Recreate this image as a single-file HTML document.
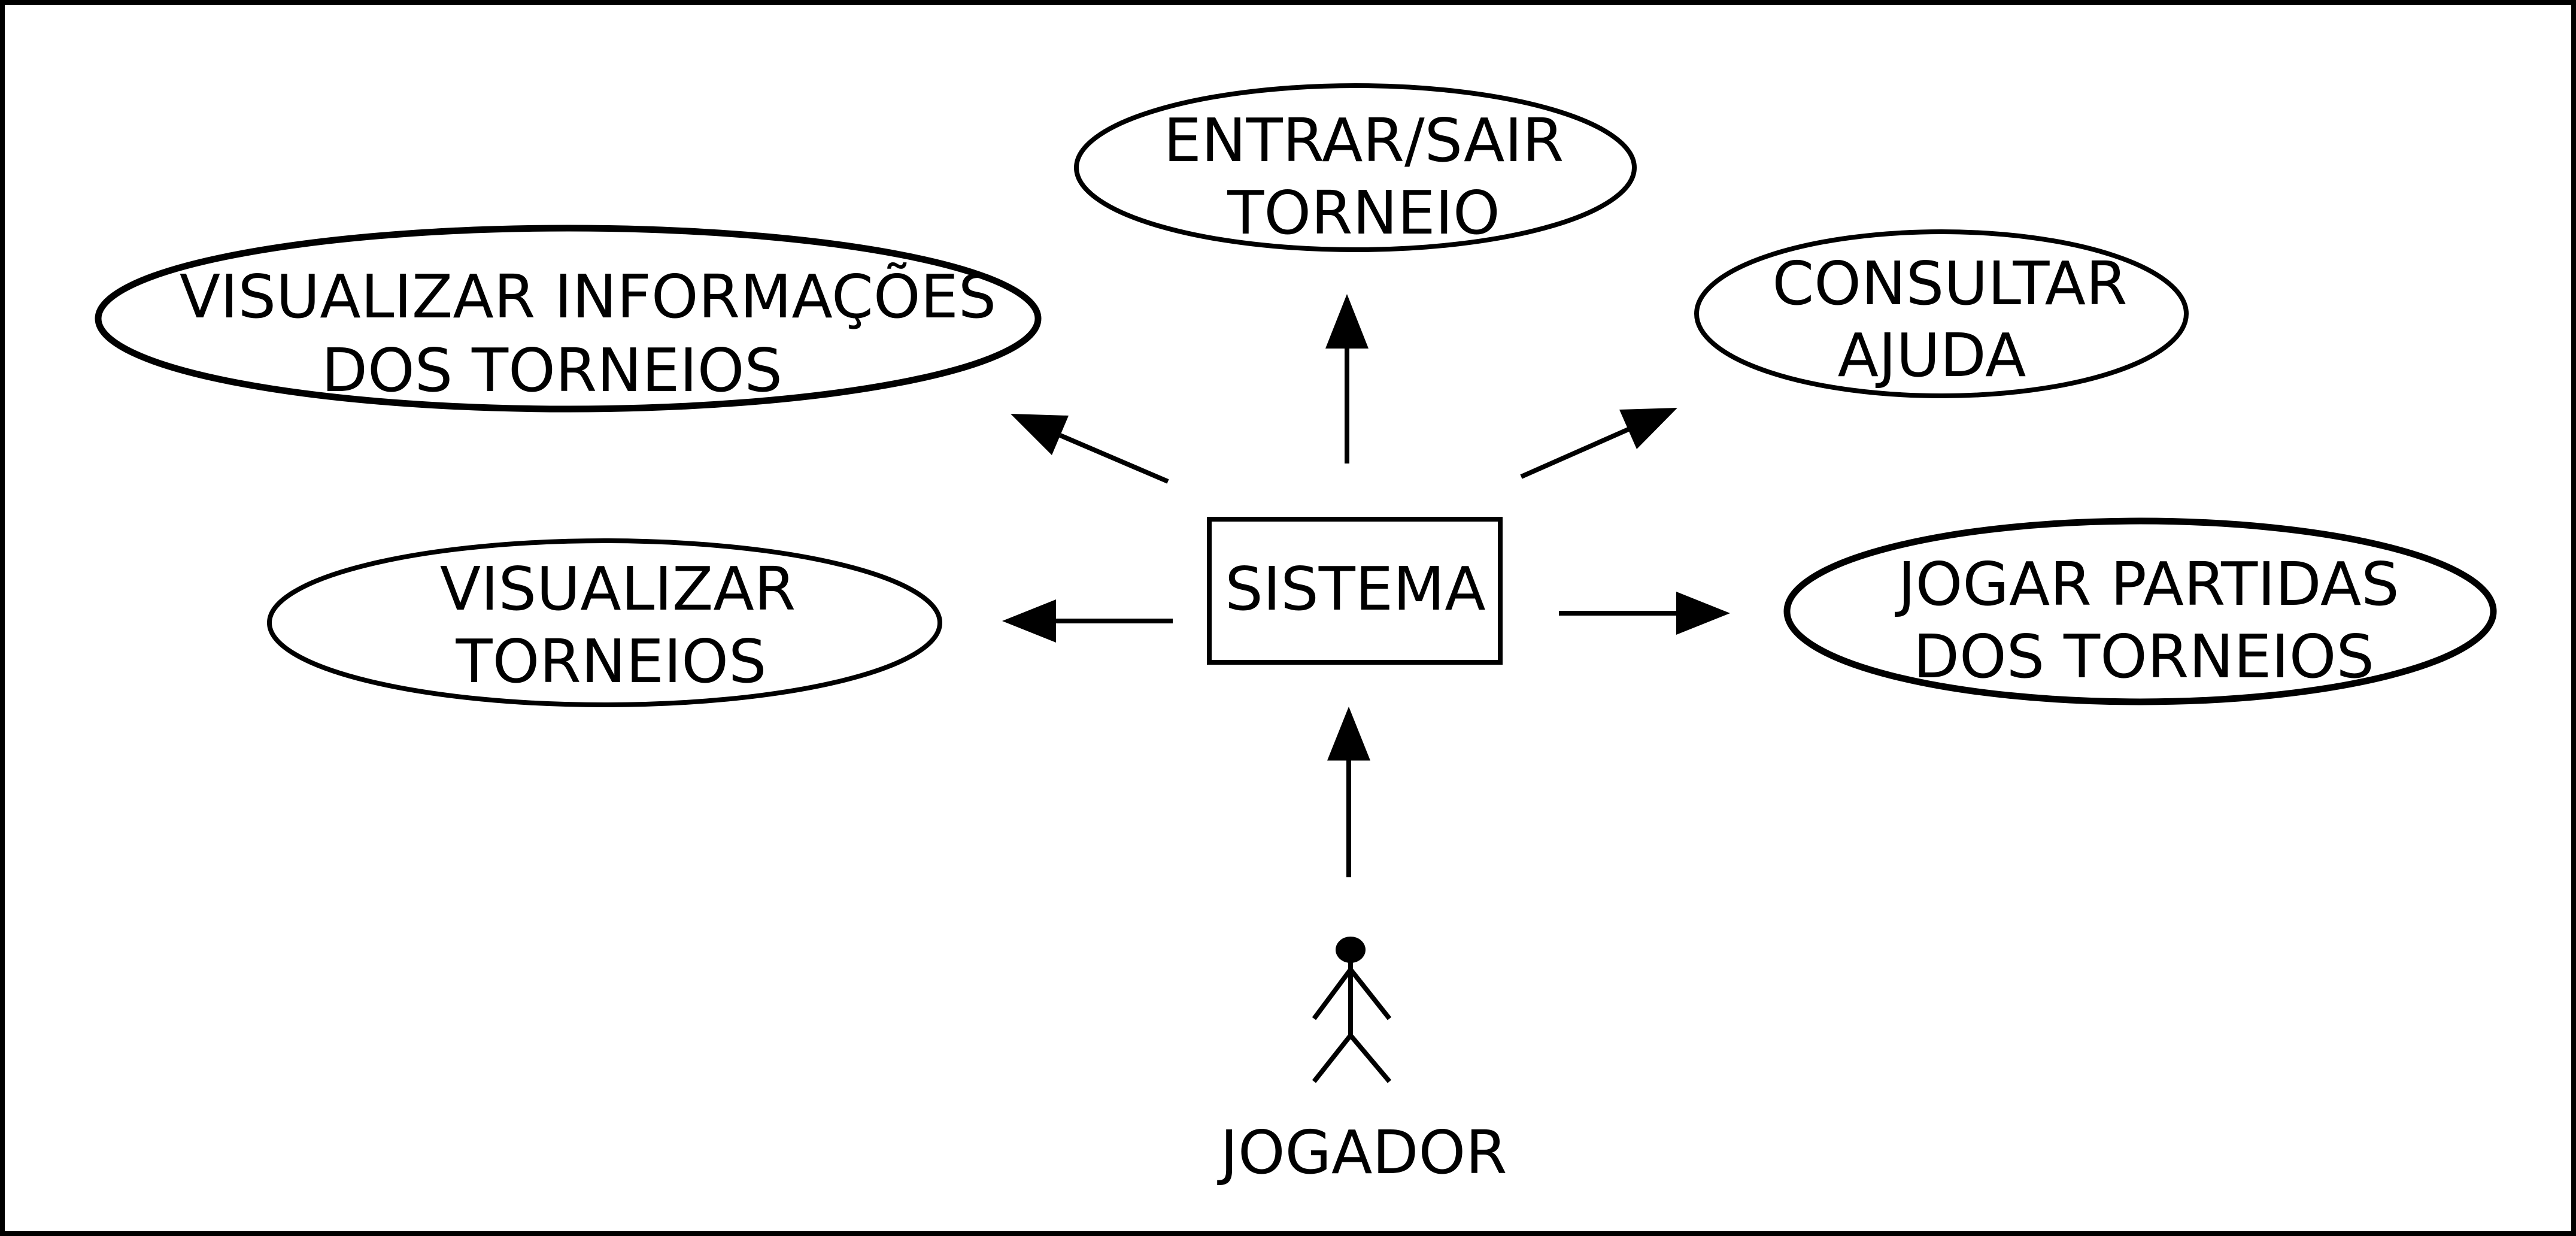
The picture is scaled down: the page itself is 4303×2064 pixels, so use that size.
<!DOCTYPE html>
<html><head><meta charset="utf-8"><style>
html,body{margin:0;padding:0;background:#fff;}
svg{display:block;}
text{font-family:"DejaVu Sans","Liberation Sans",sans-serif;font-size:100px;fill:#000;text-anchor:middle;}
</style></head><body>
<svg width="4303" height="2064" viewBox="0 0 4303 2064" xmlns="http://www.w3.org/2000/svg">
<rect x="4" y="4" width="4295" height="2056" fill="#fff" stroke="#000" stroke-width="8"/>
<g fill="none" stroke="#000">
<ellipse cx="2264" cy="280" rx="466" ry="137" stroke-width="8"/>
<ellipse cx="949" cy="532" rx="785" ry="151" stroke-width="11"/>
<ellipse cx="3243" cy="524" rx="409" ry="137" stroke-width="8"/>
<ellipse cx="1010" cy="1040" rx="560" ry="137" stroke-width="8"/>
<ellipse cx="3575" cy="1021" rx="590" ry="151" stroke-width="11"/>
<rect x="2020" y="867" width="486" height="239" stroke-width="8"/>
<line x1="2250" y1="774" x2="2250" y2="580" stroke-width="8"/>
<line x1="1951" y1="804" x2="1771" y2="727" stroke-width="8"/>
<line x1="2541" y1="796" x2="2720" y2="717" stroke-width="8"/>
<line x1="1959" y1="1037" x2="1764" y2="1037" stroke-width="8"/>
<line x1="2604" y1="1024" x2="2800" y2="1024" stroke-width="8"/>
<line x1="2253" y1="1465" x2="2253" y2="1270" stroke-width="8"/>
<line x1="2256" y1="1600" x2="2256" y2="1729" stroke-width="8"/>
<polyline points="2195,1701 2256,1619 2321,1701" stroke-width="8"/>
<polyline points="2195,1806 2256,1729 2321,1806" stroke-width="8"/>
</g>
<g fill="#000">
<polygon points="2250,491 2214,582 2286,582"/>
<polygon points="1688,691 1785,694 1757,760"/>
<polygon points="2802,681 2734,750 2705,684"/>
<polygon points="1674,1037 1764,1001 1764,1073"/>
<polygon points="2890,1024 2800,988 2800,1060"/>
<polygon points="2253,1180 2217,1270 2289,1270"/>
<ellipse cx="2256" cy="1586" rx="25" ry="22"/>
</g>
<text x="2278" y="269">ENTRAR/SAIR</text>
<text x="2278" y="390">TORNEIO</text>
<text x="982" y="530">VISUALIZAR INFORMAÇÕES</text>
<text x="922" y="653">DOS TORNEIOS</text>
<text x="3257" y="508">CONSULTAR</text>
<text x="3227" y="628">AJUDA</text>
<text x="2264" y="1018">SISTEMA</text>
<text x="1032" y="1018">VISUALIZAR</text>
<text x="1021" y="1139">TORNEIOS</text>
<text x="3589" y="1010">JOGAR PARTIDAS</text>
<text x="3581" y="1131">DOS TORNEIOS</text>
<text x="2278" y="1959">JOGADOR</text>
</svg>
</body></html>
